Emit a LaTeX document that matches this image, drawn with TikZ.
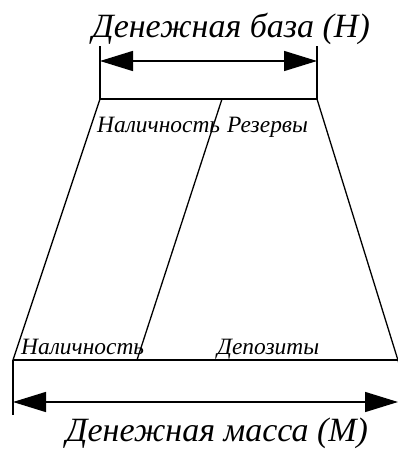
\documentclass[tikz,border=0pt]{standalone}
\usepackage{fontspec}
\setmainfont{Liberation Serif}
\usetikzlibrary{arrows.meta}
\begin{document}
\begin{tikzpicture}[x=1pt,y=-1pt,
  thin line/.style={line width=1.3pt},
  bar/.style={line width=2.5pt},
  dim/.style={line width=1.5pt,{Triangle[length=33pt,width=20pt]}-{Triangle[length=33pt,width=20pt]}},
  big/.style={font=\fontsize{34}{38}\selectfont\itshape, inner sep=0pt},
  small/.style={font=\fontsize{23.4}{26}\selectfont\itshape, inner sep=0pt}]
\useasboundingbox (0,0) rectangle (398,450);
% top coordinates
\coordinate (tl) at (100,99);
\coordinate (tm) at (222,99);
\coordinate (tr) at (317,99);
\coordinate (tlu) at (100,46);
\coordinate (tru) at (317,46);
\coordinate (tla) at (100,61);
\coordinate (tra) at (317,61);
% bottom coordinates
\coordinate (bl) at (13,360);
\coordinate (bm) at (137,360);
\coordinate (br) at (398,360);
\coordinate (bld) at (13,415);
\coordinate (bla) at (13,402);
\coordinate (bra) at (398,402);
% lines
\draw[thin line] (tlu) -- (tl);
\draw[thin line] (tru) -- (tr);
\draw[bar] (tl) -- (tr);
\draw[dim] (tla) -- (tra);
\draw[thin line] (tl) -- (bl);
\draw[thin line] (tm) -- (bm);
\draw[thin line] (tr) -- (401,370);
\draw[line width=2pt] (bl) -- (br);
\draw[thin line] (bl) -- (bld);
\draw[dim] (bla) -- (bra);
% texts
\node[big, anchor=base] (th) at (231,37) {Денежная база (H)};
\node[big, anchor=base] (bh) at (217,441) {Денежная масса (M)};
\node[small, anchor=base west] (n1) at (97,132) {Наличность};
\node[small, anchor=base west] (r1) at (227,132) {Резервы};
\node[small, anchor=base west] (n2) at (21,354) {Наличность};
\node[small, anchor=base west] (d2) at (217,354) {Депозиты};
\end{tikzpicture}
\end{document}
